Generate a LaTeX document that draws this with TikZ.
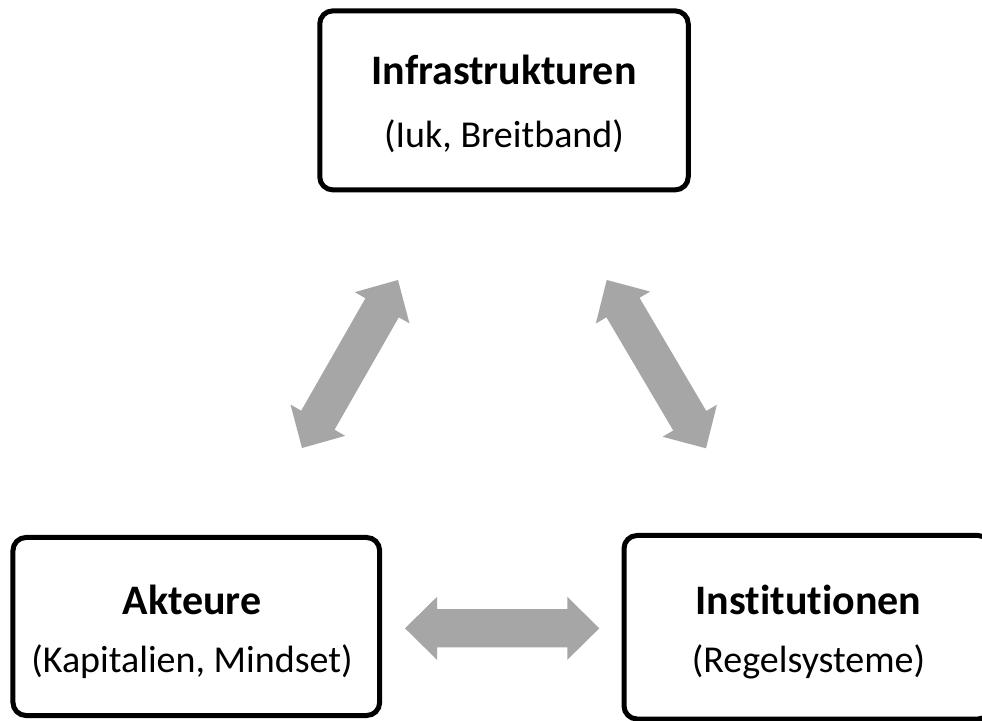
\documentclass[tikz,border=0pt]{standalone}
\usepackage{fontspec}
\setmainfont[Ligatures=NoCommon]{Carlito}
\usetikzlibrary{calc}
\definecolor{arrowgray}{HTML}{A6A6A6}
\tikzset{
  boxnode/.style={draw=black, line width=5pt, rounded corners=13pt, inner sep=0pt, rectangle},
  titletext/.style={font=\bfseries\fontsize{42}{50}\selectfont, anchor=base, inner sep=0pt},
  subtext/.style={font=\fontsize{38}{46}\selectfont, anchor=base, inner sep=0pt},
  arrowfill/.style={fill=arrowgray}
}
\newcommand{\blockarrow}[2]{%
  \fill[arrowfill] (#1)
   -- ($(#1)!32pt!(#2)!31.5pt!90:(#2)$)
   -- ($(#1)!32pt!(#2)!19.2pt!90:(#2)$)
   -- ($(#2)!32pt!(#1)!19.2pt!-90:(#1)$)
   -- ($(#2)!32pt!(#1)!31.5pt!-90:(#1)$)
   -- (#2)
   -- ($(#2)!32pt!(#1)!31.5pt!90:(#1)$)
   -- ($(#2)!32pt!(#1)!19.2pt!90:(#1)$)
   -- ($(#1)!32pt!(#2)!19.2pt!-90:(#2)$)
   -- ($(#1)!32pt!(#2)!31.5pt!-90:(#2)$)
   -- cycle;%
}
\begin{document}
\begin{tikzpicture}[x=1pt,y=1pt]
\useasboundingbox (0,0) rectangle (982,720);
% boxes
\node[boxnode, minimum width=368.5pt, minimum height=179pt] (infra) at (504,619.6) {};
\node[boxnode, minimum width=366.7pt, minimum height=178pt] (akt) at (196.3,93.5) {};
\node[boxnode, minimum width=367pt, minimum height=183.5pt] (inst) at (807.5,92.75) {};
% texts
\node[titletext] (infraT) at (504,635) {Infrastrukturen};
\node[subtext] (infraS) at (504,572) {(Iuk, Breitband)};
\node[titletext] (aktT) at (192,105) {Akteure};
\node[subtext] (aktS) at (192,48) {(Kapitalien, Mindset)};
\node[titletext] (instT) at (808.5,105) {Institutionen};
\node[subtext] (instS) at (808.5,48) {(Regelsysteme)};
% arrow end points
\coordinate (a1) at (302,272);
\coordinate (a2) at (398,440);
\coordinate (b1) at (606.7,440);
\coordinate (b2) at (706,271.7);
\coordinate (c1) at (405,91.7);
\coordinate (c2) at (599.3,91.7);
\blockarrow{a1}{a2}
\blockarrow{b1}{b2}
\blockarrow{c1}{c2}
\end{tikzpicture}
\end{document}
